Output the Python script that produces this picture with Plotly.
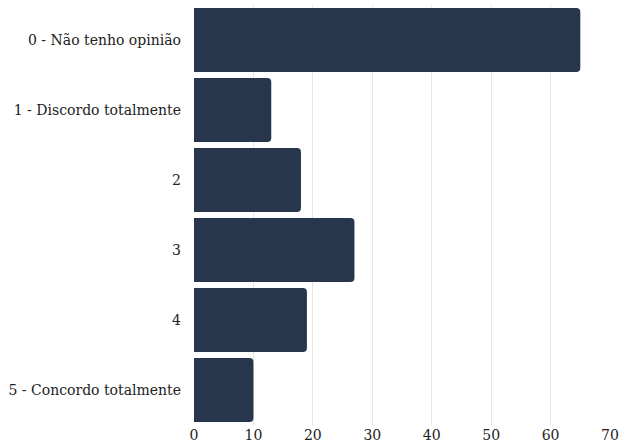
import plotly.graph_objects as go

categories = ["0 - Não tenho opinião", "1 - Discordo totalmente", "2", "3", "4", "5 - Concordo totalmente"]
counts = [65, 13, 18, 27, 19, 10]
x_ticks = [0, 10, 20, 30, 40, 50, 60, 70]

serif = "DejaVu Serif"

fig = go.Figure(
    go.Bar(
        x=counts,
        y=categories,
        orientation="h",
        marker=dict(color="#28364d", line=dict(width=0)),
    )
)

fig.update_layout(
    width=619,
    height=446,
    margin=dict(l=194, r=9, t=5, b=21, autoexpand=False),
    paper_bgcolor="white",
    plot_bgcolor="white",
    bargap=0.086,
    barcornerradius=4,
    showlegend=False,
    font=dict(family=serif, size=14, color="#222"),
)
fig.update_xaxes(
    range=[0, 70],
    tickvals=x_ticks,
    showgrid=True,
    gridcolor="#e6e6e6",
    gridwidth=1,
    zeroline=False,
    showline=False,
    ticks="",
    automargin=False,
    tickfont=dict(family=serif, size=14, color="#222"),
)
fig.update_yaxes(
    type="category",
    autorange="reversed",
    showgrid=False,
    ticks="",
    ticklabelstandoff=12,
    automargin=False,
    tickfont=dict(family=serif, size=14, color="#222"),
)

fig.write_html("out.html")
